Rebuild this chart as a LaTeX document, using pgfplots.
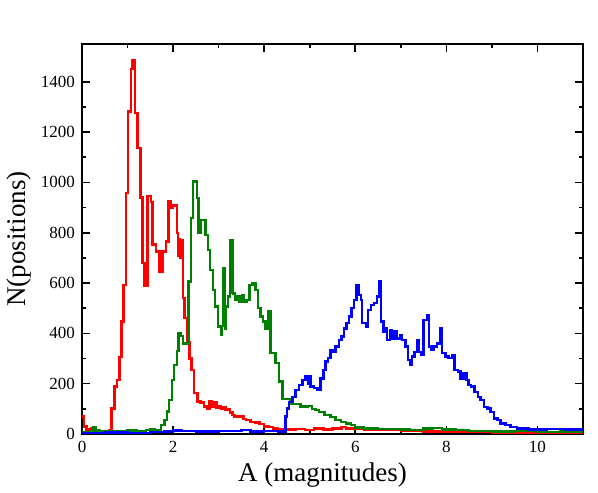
\documentclass[border=0pt]{standalone}
\usepackage{fontspec}
\setmainfont{Liberation Serif}
\usepackage{pgfplots}
\pgfplotsset{compat=1.18}

\definecolor{hred}{RGB}{255,0,0}
\definecolor{hgreen}{RGB}{0,128,0}
\definecolor{hblue}{RGB}{0,0,255}

\begin{document}
\begin{tikzpicture}
\begin{axis}[
  scale only axis,
  width=250.5pt, height=195pt,
  xmin=0, xmax=11,
  ymin=0, ymax=1550,
  xtick={0,2,4,6,8,10},
  ytick={0,200,400,600,800,1000,1200,1400},
  minor x tick num=1,
  minor y tick num=1,
  tick align=inside,
  major tick length=4pt,
  minor tick length=2pt,
  every tick/.style={black, line width=0.8pt},
  axis line style={line width=1pt},
  tick label style={font=\fontsize{8.5}{10}\selectfont},
  /pgf/number format/assume math mode=true,
  scaled y ticks=false,
  yticklabel style={/pgf/number format/1000 sep={}},
  xlabel={A (magnitudes)},
  ylabel={N(positions)},
  label style={font=\fontsize{13.5}{15}\selectfont},
  xlabel style={yshift=2pt, xshift=-5pt},
  ylabel style={yshift=-2pt},
  const plot mark left,
  every axis plot/.append style={line width=1.2pt, mark=none, line join=miter},
  clip=true,
]
% red histogram
\addplot[hred] coordinates {
(0.00,70)(0.05,30)(0.10,18)(0.20,22)(0.30,16)(0.40,12)(0.45,9)(0.60,16)
(0.65,102)(0.71,188)(0.77,215)(0.82,307)(0.87,447)(0.91,593)(0.96,957)
(1.01,1282)(1.07,1450)(1.11,1485)(1.17,1276)(1.22,1136)(1.28,940)
(1.33,680)(1.36,590)(1.385,680)(1.41,590)(1.44,947)(1.51,921)(1.55,753)
(1.62,725)(1.70,645)(1.73,720)(1.75,645)(1.77,725)(1.84,765)(1.90,927)
(1.95,898)(1.99,911)(2.02,908)(2.08,800)(2.11,710)(2.13,775)(2.15,700)
(2.17,772)(2.22,540)(2.25,460)(2.32,365)(2.36,300)(2.40,255)(2.46,162)
(2.54,129)(2.60,125)(2.68,109)(2.75,102)(2.80,130)(2.85,110)(2.90,128)
(2.95,105)(3.00,110)(3.05,100)(3.10,105)(3.15,95)(3.20,100)(3.25,85)
(3.30,75)(3.35,70)(3.45,68)(3.50,72)(3.55,60)(3.60,55)(3.70,48)(3.80,45)
(3.90,40)(4.00,30)(4.10,28)(4.20,22)(4.30,20)(4.50,18)(4.70,20)(4.90,17)
(5.10,22)(5.30,18)(5.50,22)(5.70,28)(5.80,22)(6.00,20)(6.20,16)(6.50,15)
(7.00,12)(7.50,10)(8.00,8)(8.50,7)(9.00,6)(10.00,5)(11.00,5)
};
% green histogram
\addplot[hgreen] coordinates {
(0.00,8)(0.20,12)(0.25,28)(0.30,14)(0.40,12)(0.60,10)(0.80,12)(1.00,14)
(1.20,12)(1.40,15)(1.50,18)(1.60,15)(1.73,36)(1.81,56)(1.86,89)(1.91,135)
(1.97,215)(2.02,275)(2.08,330)(2.12,400)(2.17,390)(2.22,360)(2.28,360)
(2.34,606)(2.39,858)(2.44,1004)(2.52,938)(2.56,798)(2.61,851)(2.71,791)
(2.76,732)(2.81,652)(2.87,572)(2.92,506)(2.98,427)(3.05,394)(3.08,430)
(3.11,659)(3.135,420)(3.16,506)(3.20,546)(3.25,772)(3.29,560)(3.30,772)
(3.32,559)(3.36,533)(3.41,546)(3.46,527)(3.51,553)(3.56,527)(3.61,533)
(3.68,593)(3.74,600)(3.81,572)(3.87,500)(3.92,467)(3.98,447)(4.03,420)
(4.09,487)(4.14,321)(4.25,281)(4.33,208)(4.40,138)(4.58,128)(4.60,120)
(4.80,110)(4.95,112)(5.05,100)(5.13,95)(5.21,88)(5.32,75)(5.46,68)
(5.57,55)(5.68,48)(5.79,42)(5.90,35)(6.00,26)(6.19,22)(6.50,20)(7.00,18)
(7.20,16)(7.50,22)(7.70,24)(7.90,18)(8.20,15)(8.50,12)(9.00,10)(9.50,12)
(10.00,9)(10.50,10)(11.00,10)
};
% blue histogram
\addplot[hblue] coordinates {
(0.00,5)(0.50,6)(1.00,5)(1.50,7)(1.80,10)(2.00,14)(2.20,12)(2.50,10)
(3.00,12)(3.50,15)(3.70,10)(4.00,12)(4.30,10)(4.47,70)(4.50,102)
(4.55,128)(4.62,148)(4.69,175)(4.76,195)(4.84,215)(4.91,228)(4.96,200)
(4.99,228)(5.02,188)(5.09,182)(5.17,175)(5.24,221)(5.30,255)(5.35,288)
(5.40,301)(5.46,334)(5.52,328)(5.57,347)(5.64,374)(5.70,387)(5.75,420)
(5.81,440)(5.86,467)(5.92,500)(5.97,533)(6.03,593)(6.08,553)(6.12,533)
(6.15,440)(6.23,427)(6.28,493)(6.34,513)(6.41,520)(6.48,546)(6.52,606)
(6.56,447)(6.62,407)(6.67,420)(6.70,374)(6.76,414)(6.81,380)(6.86,407)
(6.92,380)(6.98,394)(7.03,374)(7.10,347)(7.16,294)(7.20,274)(7.25,308)
(7.30,327)(7.36,374)(7.40,327)(7.45,314)(7.50,453)(7.57,473)(7.62,347)
(7.67,334)(7.73,347)(7.79,360)(7.86,420)(7.91,321)(7.98,308)(8.05,301)
(8.13,314)(8.18,254)(8.25,248)(8.31,221)(8.38,241)(8.44,214)(8.49,194)
(8.54,188)(8.62,168)(8.69,148)(8.75,135)(8.82,108)(8.90,101)(8.97,88)
(9.04,61)(9.12,55)(9.19,42)(9.30,35)(9.41,29)(9.55,22)(9.80,18)
(10.20,20)(10.60,18)(11.00,18)
};
\end{axis}
\pgfresetboundingbox
\path[use as bounding box] (current axis.south west) ++(-41pt,-29pt)
  rectangle ([shift={(7.5pt,22pt)}]current axis.north east);
\end{tikzpicture}
\end{document}
